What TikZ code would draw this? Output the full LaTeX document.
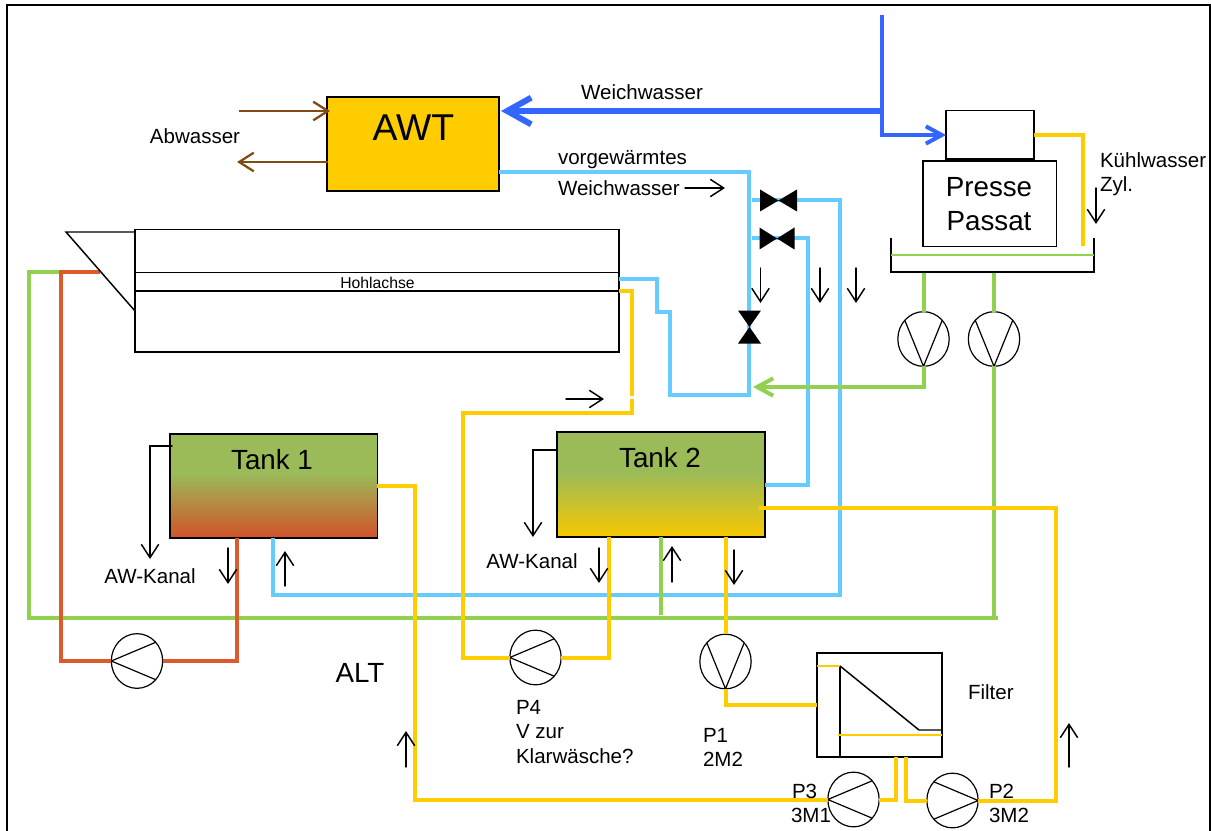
\documentclass[tikz,border=0pt]{standalone}
\usepackage{fontspec}
\setmainfont{Liberation Sans}
\usetikzlibrary{arrows.meta,shapes.geometric,calc}
\definecolor{cYellow}{HTML}{FFCC00}
\definecolor{cBrown}{HTML}{7F4A14}
\definecolor{cBlue}{HTML}{3366FF}
\definecolor{cLight}{HTML}{66CCFF}
\definecolor{cGreen}{HTML}{92D050}
\definecolor{cRed}{HTML}{DD5A2C}
\definecolor{cTankGreen}{HTML}{9BBB59}
\definecolor{cTankRed}{HTML}{D2522A}
\definecolor{cTankYellow}{HTML}{F7C800}
\pgfdeclareverticalshading{tankone}{100bp}{color(0bp)=(cTankRed);color(25bp)=(cTankRed);color(56bp)=(cTankGreen);color(100bp)=(cTankGreen)}
\pgfdeclareverticalshading{tanktwo}{100bp}{color(0bp)=(cTankYellow);color(25bp)=(cTankYellow);color(56bp)=(cTankGreen);color(100bp)=(cTankGreen)}
\tikzset{
  blackbox/.style={draw=black,line width=1.1pt,inner sep=0pt,outer sep=0pt,anchor=north west},
  pumpshape/.style={ellipse,draw=black,line width=0.9pt,fill=white,inner sep=0pt,outer sep=0pt,minimum width=38.5pt,minimum height=41pt},
  pipe/.style={line width=3pt,line join=miter},
  thinline/.style={line width=1.1pt,draw=black},
  flowarrow/.style={line width=1.1pt,draw=black,line cap=round,-{Straight Barb[length=10pt,width=13pt]}},
  brownarrow/.style={line width=1.7pt,draw=cBrown,-{Straight Barb[length=11pt,width=14pt]}},
  lbl/.style={inner sep=0pt,outer sep=0pt,font=\fontsize{15.4}{18}\selectfont},
  lblbig/.style={inner sep=0pt,outer sep=0pt,font=\fontsize{20.8}{24}\selectfont},
}
\newcommand\pumpV[3]{\node[pumpshape] (#1) at (#2,#3) {};\draw[line width=0.9pt] (#1.135) -- (#1.south) -- (#1.45);}
\newcommand\pumpL[3]{\node[pumpshape] (#1) at (#2,#3) {};\draw[line width=0.9pt] (#1.45) -- (#1.west) -- (#1.-45);}
\newcommand\pumpR[3]{\node[pumpshape] (#1) at (#2,#3) {};\draw[line width=0.9pt] (#1.135) -- (#1.east) -- (#1.-135);}
\newcommand\valveH[3]{\fill[black] ($(#1)+(-#2,-#3)$) -- ($(#1)+(#2,#3)$) -- ($(#1)+(#2,-#3)$) -- ($(#1)+(-#2,#3)$) -- cycle;}
\newcommand\valveV[3]{\fill[black] ($(#1)+(-#2,-#3)$) -- ($(#1)+(#2,-#3)$) -- ($(#1)+(-#2,#3)$) -- ($(#1)+(#2,#3)$) -- cycle;}
\begin{document}
\begin{tikzpicture}[x=0.75pt,y=-0.75pt]
\useasboundingbox (0,0) rectangle (1211,831);
\draw[line width=1.6pt] (7,831) -- (7,5) -- (1210,5) -- (1210,831);

% boxes
\node[blackbox,fill=cYellow,minimum width=129pt,minimum height=70.5pt] (awt) at (327,97) {};
\node[blackbox,minimum width=66pt,minimum height=36.5pt] (cyl) at (946,110.5) {};
\node[blackbox,minimum width=100pt,minimum height=64pt] (press) at (923,161) {};
\node[blackbox,minimum width=363pt,minimum height=92pt] (drum) at (135,229.5) {};
\node[blackbox,shading=tankone,minimum width=155.5pt,minimum height=78pt] (tankA) at (170,434) {};
\node[blackbox,shading=tanktwo,minimum width=156pt,minimum height=78.8pt] (tankB) at (557,432) {};
\node[blackbox,minimum width=93.8pt,minimum height=78pt] (filter) at (817,653) {};

% ports and way points
\coordinate (blueTop) at (882,15);
\coordinate (blueJ) at (882,111);
\coordinate (awtIn) at (501,111);
\coordinate (cylIn) at (946,135);
\coordinate (awtOut) at (499,172);
\coordinate (lbCorner) at (749,172);
\coordinate (vA) at (778.5,200.5);
\coordinate (vB) at (777,238.5);
\coordinate (vC) at (749.5,327);
\coordinate (drumBlue) at (619,279);
\coordinate (drumYel) at (619,290.5);
\coordinate (tankAblue) at (272.5,538);
\coordinate (tankAout) at (377,486);
\coordinate (tankAred) at (236.5,538);
\coordinate (tankBfeed) at (765,484.5);
\coordinate (tankBout) at (759,508);
\coordinate (tankBdrain) at (609,537);
\coordinate (tankBgreen) at (661,537);
\coordinate (tankBgreenEnd) at (661,615);
\coordinate (tankBp1) at (725.5,537);
\coordinate (hopper) at (100,272.5);
\coordinate (greenEnd) at (998,617.5);
\coordinate (tubL) at (923.5,272);
\coordinate (tubR) at (994,272);
\coordinate (greenTip) at (753,387);
\coordinate (filtP3) at (896,757);
\coordinate (filtP2) at (905.5,757);
\coordinate (filtIn) at (817,705);
\coordinate (cylOut) at (1034,135);
\coordinate (cylEnd) at (1083,246);

% pipes: light blue
\draw[pipe,cLight] (awtOut) -| (749,395) -- (670,395) -- (670,312) -- (657,312) -- (657,279) -- (drumBlue);
\draw[pipe,cLight] (752,200.5) -- (vA);
\draw[pipe,cLight] (vA) -- (840,200.5) -- (840,595) -- (272.5,595) -- (tankAblue);
\draw[pipe,cLight] (752,238.5) -- (vB);
\draw[pipe,cLight] (vB) -- (808,238.5) -- (808,484.5) -- (tankBfeed);

% pumps
\pumpV{pmpA}{923.5}{339}
\pumpV{pmpB}{994}{339}
\pumpL{pmpRed}{137}{661}
\pumpL{pmpFour}{535.5}{657.5}
\pumpV{pmpOne}{725.5}{661.5}
\pumpL{pmpThree}{853.5}{799.5}
\pumpR{pmpTwo}{952.5}{800.5}

% pipes: green
\draw[pipe,cGreen] (tubL) -- (pmpA.north);
\draw[pipe,cGreen] (tubR) -- (pmpB.north);
\draw[pipe,cGreen] (61,272.5) -- (28.5,272.5) -- (28.5,617.5) -- (greenEnd);
\draw[pipe,cGreen] (pmpB.south) -- (994,617.5);
\draw[pipe,cGreen] (tankBgreen) -- (tankBgreenEnd);
\draw[pipe,cGreen,-{Straight Barb[length=12pt,width=13pt]}] (pmpA.south) |- (greenTip);

% pipes: red
\draw[pipe,cRed] (hopper) -- (61,272.5) |- (pmpRed.west);
\draw[pipe,cRed] (pmpRed.east) -- (236.5,661) -- (tankAred);

% pipes: yellow
\draw[pipe,cYellow] (drumYel) -- (631.5,290.5) -- (631.5,396);
\draw[pipe,cYellow] (631.5,399) -- (631.5,412.5) -- (463,412.5) -- (463,657.5) -- (pmpFour.west);
\draw[pipe,cYellow] (pmpFour.east) -- (609,657.5) -- (tankBdrain);
\draw[pipe,cYellow] (tankAout) -- (415,486) -- (415,799.5) -- (pmpThree.west);
\draw[pipe,cYellow] (pmpThree.east) -- (896,799.5) -- (filtP3);
\draw[pipe,cYellow] (filtP2) -- (905.5,800.5) -- (pmpTwo.west);
\draw[pipe,cYellow] (pmpTwo.east) -- (1056,800.5) -- (1056,508) -- (tankBout);
\draw[pipe,cYellow] (tankBp1) -- (pmpOne.north);
\draw[pipe,cYellow] (pmpOne.south) |- (filtIn);
\draw[pipe,cYellow,line width=2.4pt] (cylOut) -| (cylEnd);

% blue supply
\draw[pipe,cBlue,line width=4.5pt,-{Straight Barb[length=18pt,width=20pt]}] (blueJ) -- (awtIn);
\draw[pipe,cBlue,-{Straight Barb[length=12pt,width=13pt]}] (blueTop) |- (cylIn);

% valves
\valveH{vA}{18.5}{11}
\valveH{vB}{17.5}{11}
\valveV{vC}{11.5}{16.5}

% press tub
\draw[line width=1.1pt] (891,238) |- (1094,272) -- (1094,238);
\draw[cGreen,line width=1.5pt] (891,255) -- (1094,255);

% drum
\draw[line width=1.1pt] (135,272.5) -- (619,272.5);
\draw[line width=1.1pt] (135,291) -- (619,291);
\draw[line width=1.1pt] (135,232) -- (66,232) -- (135,311);

% filter inside
\draw[line width=1.1pt] (840,667) -- (840,757);
\draw[cYellow,line width=0.9pt] (817,666) -- (840,666);
\draw[line width=1.1pt] (840,666) -- (919,730) -- (942,730);
\draw[cYellow,line width=0.9pt] (838,735) -- (942,735);

% brown
\draw[brownarrow] (239,111) -- (330,111);
\draw[brownarrow] (328,162) -- (237,162);

% flow arrows
\coordinate (fa1) at (685,188);\coordinate (fa1e) at (725,188);
\draw[flowarrow] (fa1) -- (fa1e);
\draw[flowarrow] (1096,188) -- (1096,224);
\draw[flowarrow] (760.5,268) -- (760.5,303);
\draw[flowarrow] (820,268) -- (820,303);
\draw[flowarrow] (856,268) -- (856,303);
\draw[flowarrow] (566,399) -- (604,399);
\draw[flowarrow] (172,446) -| (150,559);
\draw[flowarrow] (tankB.west |- 0,450) -| (533,537);
\draw[flowarrow] (228,548) -- (228,584);
\draw[flowarrow] (285,586) -- (285,551);
\draw[flowarrow] (599,548) -- (599,583);
\draw[flowarrow] (672,582) -- (672,546);
\draw[flowarrow] (734,550) -- (734,585);
\draw[flowarrow] (406,767) -- (406,731);
\draw[flowarrow] (1069,767) -- (1069,723);

% labels
\node[inner sep=0pt,font=\fontsize{28}{30}\selectfont] (tAWT) at (413.5,128) {AWT};
\node[lbl] (tWW) at (642,92) {Weichwasser};
\node[lbl] (tAb) at (195,136) {Abwasser};
\node[lbl,anchor=west] (tVor) at (558,160) {vorgewärmtes};
\node[lbl,anchor=west] (tVorB) at (558,188) {Weichwasser};
\node[lbl,anchor=west] (tKw) at (1100,160) {Kühlwasser};
\node[lbl,anchor=west] (tZyl) at (1100,186) {Zyl.};
\node[lblbig] (tPr) at (989,187) {Presse};
\node[lblbig] (tPa) at (989,221) {Passat};
\node[inner sep=0pt,font=\fontsize{11.8}{14}\selectfont] (tHo) at (377.5,282.5) {Hohlachse};
\node[lblbig] (tTa) at (272,459.5) {Tank 1};
\node[lblbig] (tTb) at (660,458) {Tank 2};
\node[lbl] (tKa) at (150,576) {AW-Kanal};
\node[lbl] (tKb) at (532,561) {AW-Kanal};
\node[lblbig] (tAlt) at (360,673) {ALT};
\node[lbl,anchor=west] (tP4) at (516,707) {P4};
\node[lbl,anchor=west] (tVz) at (516,732) {V zur};
\node[lbl,anchor=west] (tKl) at (516,756) {Klarwäsche?};
\node[lbl,anchor=west] (tP1) at (703,735) {P1};
\node[lbl,anchor=west] (tM2) at (703,759) {2M2};
\node[lbl,anchor=west] (tP3) at (792,791) {P3};
\node[lbl,anchor=west] (tM31) at (791,815) {3M1};
\node[lbl,anchor=west] (tP2) at (989,791) {P2};
\node[lbl,anchor=west] (tM32) at (989,815) {3M2};
\node[lbl,anchor=west] (tFi) at (968,692) {Filter};
\end{tikzpicture}
\end{document}
